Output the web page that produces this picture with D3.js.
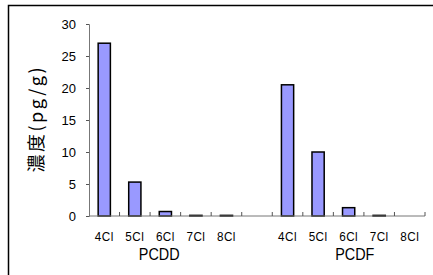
<!DOCTYPE html>
<html lang="ja">
<head>
<meta charset="UTF-8">
<title>濃度</title>
<script src="https://d3js.org/d3.v7.min.js"></script>
<style>
  body { margin: 0; background: #fff; }
  svg { display: block; font-family: "Liberation Sans", Arial, sans-serif; }
</style>
</head>
<body>
<svg width="433" height="275"></svg>
<script>
// chart data
const groups = ["PCDD", "PCDF"];
const congeners = ["4Cl", "5Cl", "6Cl", "7Cl", "8Cl"];
const pcdd = [27, 5.3, 0.7, 0.1, 0.1];
const pcdf = [20.5, 10, 1.3, 0.1, 0];
const yTicks = [0, 5, 10, 15, 20, 25, 30];

// slots: 5 PCDD, one empty gap, 5 PCDF
const slots = [];
congeners.forEach((c, i) => slots.push({key: "PCDD-" + c, label: c, value: pcdd[i]}));
slots.push({key: "gap", label: "", value: null});
congeners.forEach((c, i) => slots.push({key: "PCDF-" + c, label: c, value: pcdf[i]}));

const svg = d3.select("svg");

// outer frame (right/bottom edges fall outside the picture)
svg.append("rect")
  .attr("x", 8.5).attr("y", 5.5)
  .attr("width", 440).attr("height", 290)
  .attr("fill", "none")
  .attr("stroke", "#000")
  .attr("stroke-width", 1.5);

const plotL = 89, plotR = 425, plotT = 24, plotB = 216;

const x = d3.scaleBand()
  .domain(slots.map(d => d.key))
  .range([plotL, plotR])
  .paddingInner(0).paddingOuter(0);

const y = d3.scaleLinear().domain([0, 30]).range([plotB, plotT]);

// y axis
const yAxis = svg.append("g")
  .attr("transform", "translate(" + plotL + ",0)")
  .call(d3.axisLeft(y).tickValues(yTicks).tickSize(3).tickPadding(10));
yAxis.select(".domain").attr("stroke", "#777");
yAxis.selectAll(".tick line").attr("stroke", "#555");
yAxis.selectAll("text").attr("font-size", 13).attr("fill", "#000")
  .attr("font-family", "Liberation Sans, Arial, sans-serif");

// bars
const bw = x.bandwidth() * 0.4;
svg.selectAll(".bar")
  .data(slots.filter(d => d.value !== null))
  .enter().append("rect")
  .attr("class", "bar")
  .attr("x", d => x(d.key) + (x.bandwidth() - bw) / 2)
  .attr("y", d => y(d.value))
  .attr("width", bw)
  .attr("height", d => plotB - y(d.value))
  .attr("fill", "#9999FF")
  .attr("stroke", d => d.value > 0 ? "#000" : "none")
  .attr("stroke-width", 1.5);

// x axis line and inward tick marks at slot boundaries
svg.append("line")
  .attr("x1", plotL).attr("x2", plotR)
  .attr("y1", plotB).attr("y2", plotB)
  .attr("stroke", "#777");
const bounds = slots.map(d => x(d.key) + x.bandwidth());
svg.selectAll(".xtick")
  .data(bounds)
  .enter().append("line")
  .attr("x1", d => d).attr("x2", d => d)
  .attr("y1", plotB).attr("y2", plotB - 4)
  .attr("stroke", "#555");

// category labels (narrow, tall look of the original font)
svg.selectAll(".xlab")
  .data(slots.filter(d => d.label))
  .enter().append("text")
  .attr("transform", d => "translate(" + (x(d.key) + x.bandwidth() / 2) + ",241) scale(0.9,1)")
  .attr("text-anchor", "middle")
  .attr("font-size", 13)
  .attr("letter-spacing", 0.5)
  .text(d => d.label);

// group labels
const groupPos = {PCDD: x("PCDD-5Cl") + x.bandwidth() * 1.3, PCDF: x("PCDF-6Cl") + x.bandwidth() * 0.7};
svg.selectAll(".glab")
  .data(groups)
  .enter().append("text")
  .attr("transform", d => "translate(" + groupPos[d] + ",260) scale(0.9,1)")
  .attr("text-anchor", "middle")
  .attr("font-size", 16)
  .text(d => d);

// y axis title
svg.append("text")
  .attr("transform", "translate(43,120) rotate(-90)")
  .attr("text-anchor", "middle")
  .attr("font-size", 18)
  .attr("font-family", "Noto Sans CJK JP, sans-serif")
  .attr("textLength", 105)
  .attr("lengthAdjust", "spacing")
  .text("濃度(pg/g)");
</script>
</body>
</html>
